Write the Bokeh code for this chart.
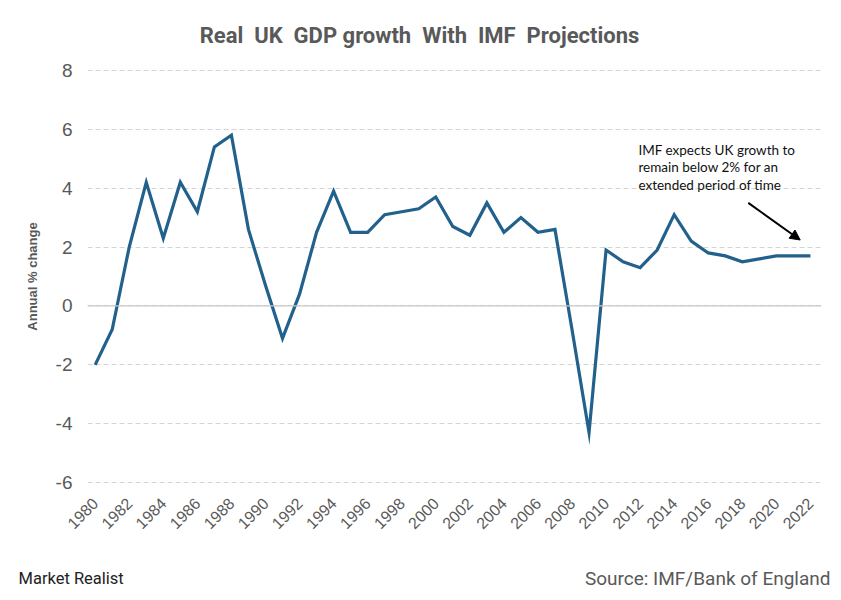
import math
from bokeh.plotting import figure
from bokeh.layouts import column
from bokeh.models import (ColumnDataSource, FixedTicker, Span, Label, Arrow,
                          NormalHead, Range1d)
from bokeh.embed import file_html
from bokeh.resources import INLINE

years = list(range(1980, 2023))
growth = [-2.0, -0.8, 2.0, 4.2, 2.3, 4.2, 3.2, 5.4, 5.8, 2.6,
          0.7, -1.1, 0.4, 2.5, 3.9, 2.5, 2.5, 3.1, 3.2, 3.3,
          3.7, 2.7, 2.4, 3.5, 2.5, 3.0, 2.5, 2.6, -0.8, -4.3,
          1.9, 1.5, 1.3, 1.9, 3.1, 2.2, 1.8, 1.7, 1.5, 1.6,
          1.7, 1.7, 1.7]
x_ticks = list(range(1980, 2023, 2))
y_ticks = [-6, -4, -2, 0, 2, 4, 6, 8]

title_text = "Real \u00a0UK \u00a0GDP growth \u00a0With \u00a0IMF \u00a0Projections"
y_label = "Annual % change"
note_lines = ["IMF expects UK growth to", "remain below 2% for an", "extended period of time"]
source_text = "Source: IMF/Bank of England"
brand_text = "Market Realist"

GREY = "#595959"
W = 833


def blank(height):
    f = figure(width=W, height=height, output_backend="svg", toolbar_location=None,
               title=None, x_range=Range1d(0, W), y_range=Range1d(height, 0),
               min_border=0, x_axis_type=None, y_axis_type=None)
    f.outline_line_color = None
    f.xgrid.grid_line_color = None
    f.ygrid.grid_line_color = None
    f.frame_align = False
    return f


# header
head = blank(56)
head.add_layout(Label(x=419, y=35, text=title_text, text_align="center",
                      text_baseline="middle", text_font="Roboto",
                      text_font_style="bold", text_font_size="22px", text_color=GREY))

# main chart
p = figure(width=W, height=484, output_backend="svg", toolbar_location=None,
           title=None, x_range=Range1d(1979.55, 2022.65), y_range=Range1d(-6.2, 8.2),
           min_border_left=87, min_border_right=12, min_border_top=8,
           min_border_bottom=52)
p.outline_line_color = None
p.frame_align = False

src = ColumnDataSource(dict(year=years, growth=growth))
p.line("year", "growth", source=src, line_color="#22618c", line_width=3.2,
       line_join="miter")

p.xaxis.ticker = FixedTicker(ticks=x_ticks)
p.yaxis.ticker = FixedTicker(ticks=y_ticks)
p.yaxis.major_label_overrides = {v: str(v) for v in y_ticks}
for ax in (p.xaxis[0], p.yaxis[0]):
    ax.axis_line_color = None
    ax.major_tick_line_color = None
    ax.minor_tick_line_color = None
    ax.major_label_text_color = GREY
    ax.major_label_text_font = "Liberation Sans"
p.yaxis.major_label_text_font_size = "19px"
p.yaxis.major_label_standoff = 9
p.yaxis.axis_label = y_label
p.yaxis.axis_label_text_font = "Liberation Sans"
p.yaxis.axis_label_text_font_size = "13px"
p.yaxis.axis_label_text_font_style = "bold"
p.yaxis.axis_label_text_color = GREY
p.yaxis.axis_label_standoff = 13
p.xaxis.major_label_text_font_size = "16px"
p.xaxis.major_label_orientation = math.pi / 4
p.xaxis.major_label_standoff = 6

p.xgrid.grid_line_color = None
p.ygrid.grid_line_color = "#d4d4d4"
p.ygrid.grid_line_dash = "5 3"
p.ygrid.grid_line_width = 1
p.add_layout(Span(location=0, dimension="width", line_color="#c8c8c8", line_width=1.2))

note_y = [5.3, 4.72, 4.11]
for t, yy in zip(note_lines, note_y):
    p.add_layout(Label(x=2011.9, y=yy, text=t, text_align="left", text_baseline="middle",
                       text_font="Lato", text_font_size="13.5px", text_color="#111111"))
p.add_layout(Arrow(x_start=2018.35, y_start=3.5, x_end=2021.4, y_end=2.24,
                   line_color="black", line_width=2,
                   end=NormalHead(size=10, fill_color="black", line_color="black")))

# footer
foot = blank(52)
foot.add_layout(Label(x=18, y=38, text=brand_text, text_align="left",
                      text_baseline="middle", text_font="Roboto",
                      text_font_size="16.5px", text_color="#222222"))
foot.add_layout(Label(x=830, y=38, text=source_text, text_align="right",
                      text_baseline="middle", text_font="Roboto",
                      text_font_size="19px", text_color=GREY))

layout = column(head, p, foot, spacing=0)
open("out.html", "w").write(file_html(layout, INLINE))
